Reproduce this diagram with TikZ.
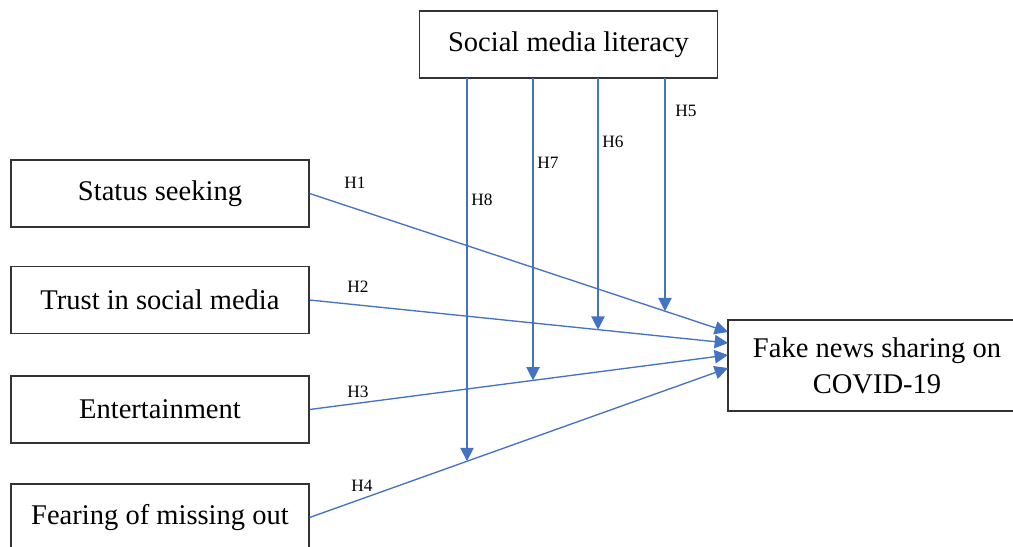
\documentclass[tikz,border=0pt]{standalone}
\usepackage{fontspec}
\setmainfont{Liberation Serif}
\usetikzlibrary{arrows.meta}
\definecolor{arrblue}{HTML}{4472C4}
\begin{document}
\begin{tikzpicture}[x=0.75pt,y=-0.75pt,
  box/.style={draw=black!80,line width=0.9pt,rectangle,minimum width=298*0.75pt,minimum height=67*0.75pt,inner sep=0pt,font=\fontsize{21.4}{27}\selectfont,align=center},
  link/.style={draw=arrblue,line width=1pt,-{Triangle[length=10pt,width=10pt]}},
  hlab/.style={font=\fontsize{13}{15}\selectfont}]
\useasboundingbox (0,0) rectangle (1013,546);
\clip (0,0) rectangle (1013,546);
\node[box] (sml) at (568.5,44.5) {Social media literacy};
\node[box] (ss) at (160,193.5) {Status seeking};
\node[box] (tsm) at (160,300) {Trust in social media};
\node[box] (ent) at (160,409.5) {Entertainment};
\node[box] (fomo) at (160,517.5) {Fearing of missing out};
\node[box,minimum height=91*0.75pt] (fn) at (877,365.5) {Fake news sharing on\\COVID-19};
\coordinate (t1) at (728,332);
\coordinate (t2) at (728,343);
\coordinate (t3) at (728,355);
\coordinate (t4) at (728,368);
\draw[link] (ss.east) -- (t1);
\draw[link] (tsm.east) -- (t2);
\draw[link] (ent.east) -- (t3);
\draw[link] (fomo.east) -- (t4);
\coordinate (s5) at (665,78); \coordinate (e5) at (665,311.2);
\coordinate (s6) at (598,78); \coordinate (e6) at (598,329.7);
\coordinate (s7) at (533,78); \coordinate (e7) at (533,380.4);
\coordinate (s8) at (467,78); \coordinate (e8) at (467,461.1);
\draw[link] (s5) -- (e5);
\draw[link] (s6) -- (e6);
\draw[link] (s7) -- (e7);
\draw[link] (s8) -- (e8);
\node[hlab] (h1) at (355,183) {H1};
\node[hlab] (h2) at (358,287) {H2};
\node[hlab] (h3) at (358,392) {H3};
\node[hlab] (h4) at (362,486) {H4};
\node[hlab] (h5) at (686,111) {H5};
\node[hlab] (h6) at (613,142) {H6};
\node[hlab] (h7) at (548,163) {H7};
\node[hlab] (h8) at (482,200) {H8};
\end{tikzpicture}
\end{document}
